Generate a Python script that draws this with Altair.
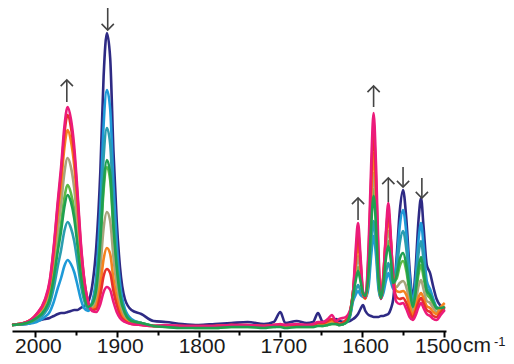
import altair as alt
import pandas as pd

# wavenumber grid (cm-1)
wavenumber = [2028, 2010, 1998, 1988, 1982, 1977, 1972, 1968, 1964, 1960, 1956, 1952, 1948, 1944, 1940,
              1935, 1930, 1925, 1920, 1916, 1912, 1908, 1904, 1900, 1896, 1890, 1882, 1870, 1855,
              1840, 1820, 1800, 1780, 1760, 1740, 1720, 1708, 1700, 1694, 1680, 1668, 1660, 1654, 1648, 1642, 1637, 1632,
              1628, 1620, 1615, 1611, 1608, 1605, 1602, 1599, 1596, 1592, 1589, 1586, 1583, 1580, 1577, 1574, 1571,
              1568, 1565, 1562, 1558, 1554, 1550, 1546, 1542, 1538, 1535, 1531, 1528, 1525, 1521, 1517, 1513, 1509,
              1504, 1499]

navy = [6, 7, 10, 12, 13, 15, 17, 18, 18, 19, 20, 21, 21, 23, 25, 29, 45, 84, 160, 255, 298, 273, 180, 110, 64, 32, 21, 17, 10,
        9, 7, 6, 7, 8, 9, 7, 9, 19, 8, 10, 8, 9, 18, 9, 10, 9, 12,
        10, 9, 10, 12, 14, 17, 22, 26, 20, 16, 15, 14, 14, 14, 15, 15, 16, 17, 22,
        32, 72, 120, 141, 112, 62, 33, 58, 112, 133, 105, 66, 58, 44, 32, 25, 22]
blue = [6, 7, 9, 14, 19, 29, 43, 53, 65, 71, 67, 59, 46, 32, 23, 20, 29, 55, 124, 206, 241, 222, 147, 88, 48, 22, 12, 8, 5,
        5, 4, 4, 4, 5, 5, 4, 5, 6, 5, 5, 5, 5, 7, 6, 7, 8, 8,
        6, 8, 14, 30, 36, 40, 36, 34, 33, 45, 75, 95, 75, 42, 33, 38, 50, 58, 50,
        42, 66, 105, 121, 98, 55, 28, 48, 92, 108, 86, 50, 42, 32, 24, 22, 20]
teal = [6, 8, 11, 18, 27, 43, 65, 81, 100, 109, 103, 90, 69, 47, 31, 22, 28, 48, 106, 174, 203, 187, 124, 75, 41, 20, 11, 8, 5,
        5, 4, 4, 4, 5, 5, 5, 5, 6, 5, 5, 5, 5, 7, 6, 7, 8, 8,
        6, 8, 15, 32, 40, 46, 40, 35, 33, 50, 85, 110, 85, 45, 32, 42, 58, 68, 58,
        44, 60, 88, 100, 82, 48, 26, 42, 78, 90, 72, 44, 38, 30, 23, 22, 21]
lightgreen = [6, 8, 13, 22, 34, 56, 86, 108, 133, 146, 138, 121, 92, 61, 38, 25, 26, 41, 86, 141, 164, 151, 101, 61, 34, 17, 10, 8, 5,
              4, 4, 3, 3, 4, 4, 4, 4, 5, 4, 4, 4, 4, 6, 5, 6, 7, 7,
              6, 8, 16, 37, 52, 64, 52, 38, 34, 62, 110, 142, 110, 54, 33, 50, 76, 90, 76,
              50, 52, 65, 70, 60, 38, 22, 33, 57, 66, 54, 37, 33, 27, 22, 22, 23]
olive = [6, 9, 14, 25, 39, 66, 101, 127, 158, 173, 164, 143, 109, 71, 44, 26, 24, 33, 64, 103, 119, 110, 74, 46, 26, 14, 9, 7, 5,
         5, 4, 4, 4, 5, 5, 4, 5, 5, 5, 5, 5, 5, 6, 6, 7, 8, 7,
         6, 9, 17, 40, 58, 75, 58, 38, 33, 66, 122, 158, 122, 58, 33, 54, 84, 100, 82,
         52, 44, 48, 50, 44, 30, 19, 27, 45, 51, 42, 30, 28, 23, 19, 22, 25]
orange = [6, 9, 16, 28, 45, 76, 117, 147, 183, 201, 190, 166, 126, 81, 50, 28, 22, 26, 46, 72, 83, 77, 52, 33, 20, 11, 8, 7, 5,
          5, 5, 4, 5, 6, 5, 5, 6, 6, 5, 6, 5, 6, 8, 7, 9, 10, 8,
          7, 10, 18, 40, 66, 88, 65, 38, 32, 72, 135, 178, 135, 62, 33, 58, 92, 112, 90,
          55, 40, 39, 40, 36, 25, 16, 23, 34, 38, 33, 25, 23, 19, 17, 24, 28]
red = [6, 9, 17, 30, 48, 82, 126, 158, 197, 216, 204, 178, 135, 87, 53, 29, 21, 22, 36, 55, 62, 58, 40, 26, 16, 10, 7, 6, 5,
       5, 5, 5, 5, 6, 6, 5, 6, 6, 6, 6, 6, 6, 8, 8, 10, 12, 9,
       7, 11, 19, 40, 72, 98, 70, 38, 33, 80, 150, 200, 150, 70, 33, 55, 95, 120, 92,
       52, 34, 32, 33, 28, 19, 13, 19, 29, 33, 28, 21, 19, 15, 14, 19, 24]
magenta = [6, 9, 17, 31, 50, 84, 130, 164, 204, 224, 212, 185, 140, 90, 54, 29, 20, 19, 27, 39, 44, 41, 29, 19, 13, 9, 7, 6, 5,
           6, 5, 5, 5, 6, 6, 5, 6, 7, 6, 7, 6, 7, 9, 9, 12, 16, 10,
           12, 14, 20, 40, 80, 108, 75, 40, 34, 88, 165, 218, 165, 80, 32, 55, 98, 128, 95,
           50, 29, 27, 28, 22, 14, 11, 15, 24, 28, 23, 17, 15, 12, 11, 16, 21]
green = [6, 8, 13, 21, 32, 53, 80, 100, 124, 136, 129, 113, 86, 57, 36, 24, 27, 42, 90, 147, 171, 158, 105, 64, 36, 18, 10, 8, 5,
         4, 3, 3, 3, 4, 4, 3, 4, 4, 3, 4, 4, 4, 5, 5, 6, 7, 7,
         6, 8, 16, 36, 50, 60, 50, 38, 35, 60, 105, 135, 105, 52, 33, 48, 72, 85, 72,
         48, 55, 72, 78, 66, 42, 24, 36, 64, 74, 60, 40, 36, 29, 23, 23, 24]

series_names = ["navy", "blue", "teal", "lightgreen", "olive", "orange", "red", "magenta", "green"]
series_values = [navy, blue, teal, lightgreen, olive, orange, red, magenta, green]
series_colors = ["#2E2A84", "#1E9AD8", "#2A9DB0", "#5DBB46", "#A8A47C", "#F5821F", "#E8312A", "#EC1B7A", "#1FA050"]

# arrow annotations: position, shaft bottom / top, direction
arrow_wn = [1961, 1911, 1605, 1586, 1568, 1550, 1527]
arrow_low = [229, 301, 111, 224, 129, 144, 133]
arrow_high = [251, 323, 133, 245, 153, 164, 153]
arrow_dir = ["up", "down", "up", "up", "up", "down", "down"]

tick_values = [2000, 1950, 1900, 1850, 1800, 1750, 1700, 1650, 1600, 1550, 1500]

rows = []
for name, vals in zip(series_names, series_values):
    for w, v in zip(wavenumber, vals):
        rows.append({"wn": w, "value": v, "series": name})
df = pd.DataFrame(rows)

arrow_df = pd.DataFrame({"wn": arrow_wn, "lo": arrow_low, "hi": arrow_high, "dir": arrow_dir})
arrow_df["tip"] = [h if d == "up" else l for l, h, d in zip(arrow_low, arrow_high, arrow_dir)]

xscale = alt.Scale(domain=[1497.5, 2028], reverse=True, nice=False, zero=False)
yscale = alt.Scale(domain=[0, 323], nice=False, zero=False)

lines = alt.Chart(df).mark_line(strokeWidth=2.6, interpolate="monotone").encode(
    x=alt.X("wn:Q", scale=xscale, axis=alt.Axis(
        values=tick_values, title=None, format="d",
        labelExpr="datum.value % 100 == 0 ? datum.label : ''",
        labelFont="Liberation Sans", labelFontSize=21, labelColor="#1a1a1a",
        labelFlush=False, labelOverlap=False, labelPadding=-2,
        labelOffset={"condition": {"test": "datum.value == 1500", "value": -6}, "value": 3},
        domainColor="black", domainWidth=2, tickColor="black", tickWidth=2,
        tickSize={"condition": {"test": "datum.value % 100 == 0", "value": 6}, "value": 4},
        grid=False)),
    y=alt.Y("value:Q", scale=yscale, axis=None),
    color=alt.Color("series:N", scale=alt.Scale(domain=series_names, range=series_colors), legend=None),
)

shafts = alt.Chart(arrow_df).mark_rule(strokeWidth=1.6, color="#444444").encode(
    x="wn:Q", y="lo:Q", y2="hi:Q"
)
heads = alt.Chart(arrow_df).mark_point(filled=False, strokeWidth=1.6, size=150, opacity=1, color="#444444").encode(
    x="wn:Q", y="tip:Q",
    shape=alt.Shape("dir:N", scale=alt.Scale(domain=["up", "down"],
                                             range=["M -1 1 L 0 0 L 1 1", "M -1 -1 L 0 0 L 1 -1"]),
                    legend=None),
)

cm = alt.Chart(pd.DataFrame({"t": ["cm"]})).mark_text(
    align="left", baseline="alphabetic", font="Liberation Sans", fontSize=21, dx=19, color="#1a1a1a"
).encode(x=alt.datum(1500), y=alt.datum(-20.5), text="t:N")

sup = alt.Chart(pd.DataFrame({"t": ["-1"]})).mark_text(
    align="left", baseline="alphabetic", font="Liberation Sans", fontSize=13, dx=50, color="#1a1a1a"
).encode(x=alt.datum(1500), y=alt.datum(-15), text="t:N")

chart = alt.layer(lines, shafts, heads, cm, sup).properties(
    width=434, height=323,
    autosize=alt.AutoSizeParams(type="none"),
    padding={"left": 4, "top": 0, "right": 60, "bottom": 25},
).configure_view(stroke=None)

chart.save("out.html", embed_options={"renderer": "svg", "actions": False})
